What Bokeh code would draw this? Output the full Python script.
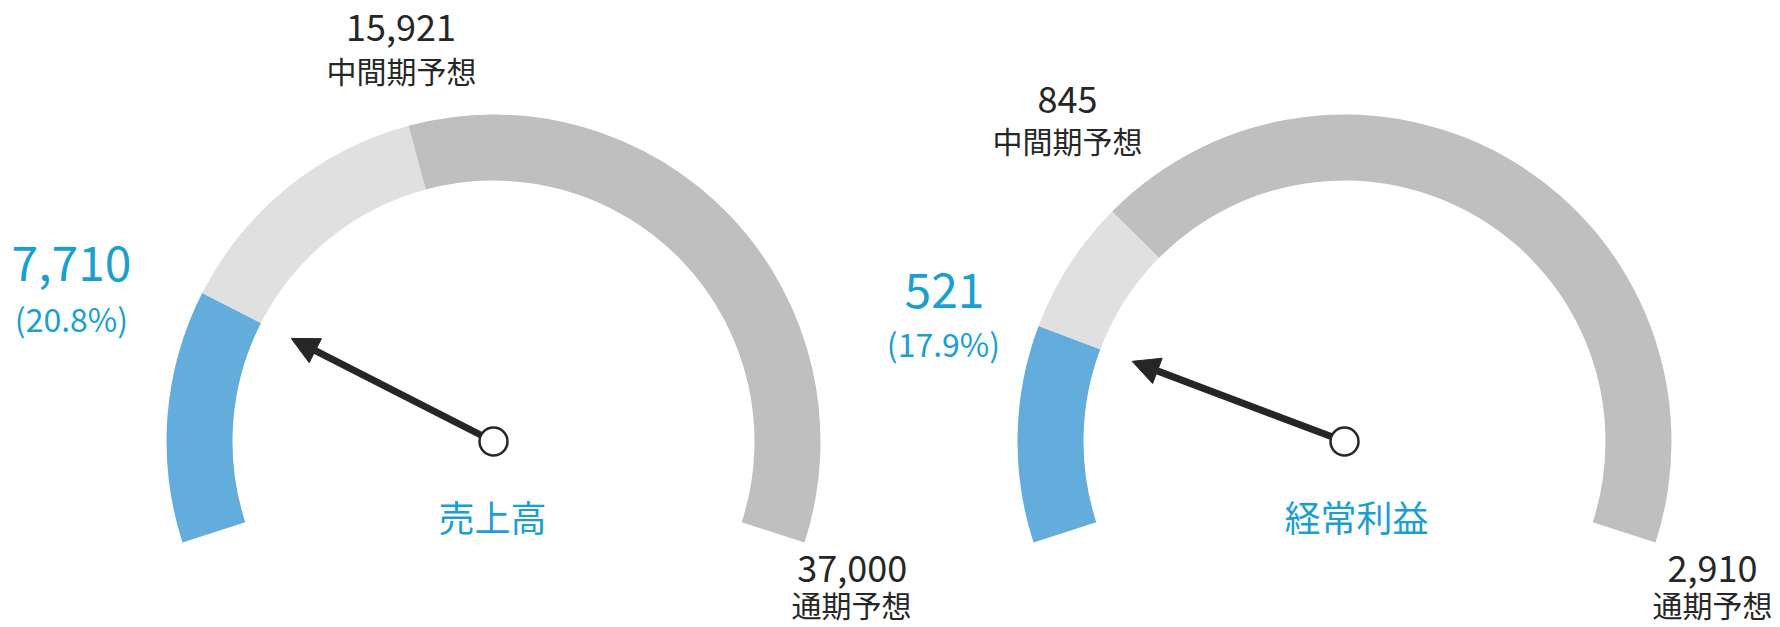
import math
from bokeh.plotting import figure
from bokeh.models import Range1d, Arrow, NormalHead
from bokeh.embed import file_html
from bokeh.resources import INLINE
from bokeh.core.properties import value

# ---------------- data ----------------
titles = ["売上高", "経常利益"]
actual = [7710, 521]
interim = [15921, 845]
full_year = [37000, 2910]
interim_label = "中間期予想"
full_label = "通期予想"

# ---------------- style / layout ----------------
FONT = value("Noto Sans CJK JP")
BLUE = "#62ADDB"
LIGHT = "#E0E0E0"
DARK = "#BFBFBF"
TXT_BLUE = "#1A9FD3"
TXT_DARK = "#262626"
NEEDLE = "#262626"

W, H = 1780, 627
BASE_SHIFT = 0.46  # em; renderer places the alphabetic baseline lower than expected


def Y(ys):
    return H - ys


centers_x = [493, 1344]
center_y = Y(441)
R_OUT, R_IN = 327, 261
START, SWEEP = 198.0, 216.0
NEEDLE_LEN = 227

# label anchor positions (screen coords): (x, baseline y)
lay = [
    dict(inum=(400.5, 43.7), ilab=(401, 83.5), anum=(71, 284.7), apct=(71, 332),
         title=(492, 532), fnum=(851.7, 585), flab=(851, 617.5)),
    dict(inum=(1067, 116), ilab=(1067, 153.5), anum=(944, 312), apct=(943, 357),
         title=(1356, 532), fnum=(1712, 585), flab=(1712, 617.5)),
]

p = figure(width=W, height=H, output_backend="svg", toolbar_location=None,
           x_range=Range1d(0, W), y_range=Range1d(0, H),
           x_axis_type=None, y_axis_type=None, min_border=0,
           outline_line_color=None, background_fill_color="white",
           border_fill_color="white")
p.grid.visible = False


def ang(v, total):
    return math.radians(START - SWEEP * v / total)


for i in range(len(titles)):
    cx = centers_x[i]
    a0 = math.radians(START)
    a1 = ang(actual[i], full_year[i])
    a2 = ang(interim[i], full_year[i])
    a3 = ang(full_year[i], full_year[i])
    # arcs (anticlockwise from start to end)
    p.annular_wedge(x=[cx], y=[center_y], inner_radius=R_IN, outer_radius=R_OUT,
                    start_angle=[a1], end_angle=[a0], fill_color=BLUE, line_color=None)
    p.annular_wedge(x=[cx], y=[center_y], inner_radius=R_IN, outer_radius=R_OUT,
                    start_angle=[a2], end_angle=[a1], fill_color=LIGHT, line_color=None)
    p.annular_wedge(x=[cx], y=[center_y], inner_radius=R_IN, outer_radius=R_OUT,
                    start_angle=[a3], end_angle=[a2], fill_color=DARK, line_color=None)

    # needle
    p.add_layout(Arrow(x_start=cx, y_start=center_y,
                       x_end=cx + NEEDLE_LEN * math.cos(a1),
                       y_end=center_y + NEEDLE_LEN * math.sin(a1),
                       line_width=7, line_color=NEEDLE,
                       end=NormalHead(size=27, fill_color=NEEDLE, line_color=NEEDLE, line_width=1)))
    p.scatter(x=[cx], y=[center_y], size=28, marker="circle", fill_color="white",
              line_color=NEEDLE, line_width=2.5, level="overlay")

    L = lay[i]
    pct = actual[i] / full_year[i] * 100

    def txt(pos, s, size, color):
        p.text(x=[pos[0]], y=[Y(pos[1] - BASE_SHIFT * size)], text=[s], text_font=FONT,
               text_font_size=f"{size}px", text_color=color,
               text_align="center", text_baseline="alphabetic")

    txt(L["inum"], f"{interim[i]:,}", 36, TXT_DARK)
    txt(L["ilab"], interim_label, 30, TXT_DARK)
    txt(L["anum"], f"{actual[i]:,}", 48, TXT_BLUE)
    txt(L["apct"], f"({pct:.1f}%)", 32, TXT_BLUE)
    txt(L["title"], titles[i], 36, TXT_BLUE)
    txt(L["fnum"], f"{full_year[i]:,}", 36, TXT_DARK)
    txt(L["flab"], full_label, 30, TXT_DARK)

open("out.html", "w").write(file_html(p, INLINE))
